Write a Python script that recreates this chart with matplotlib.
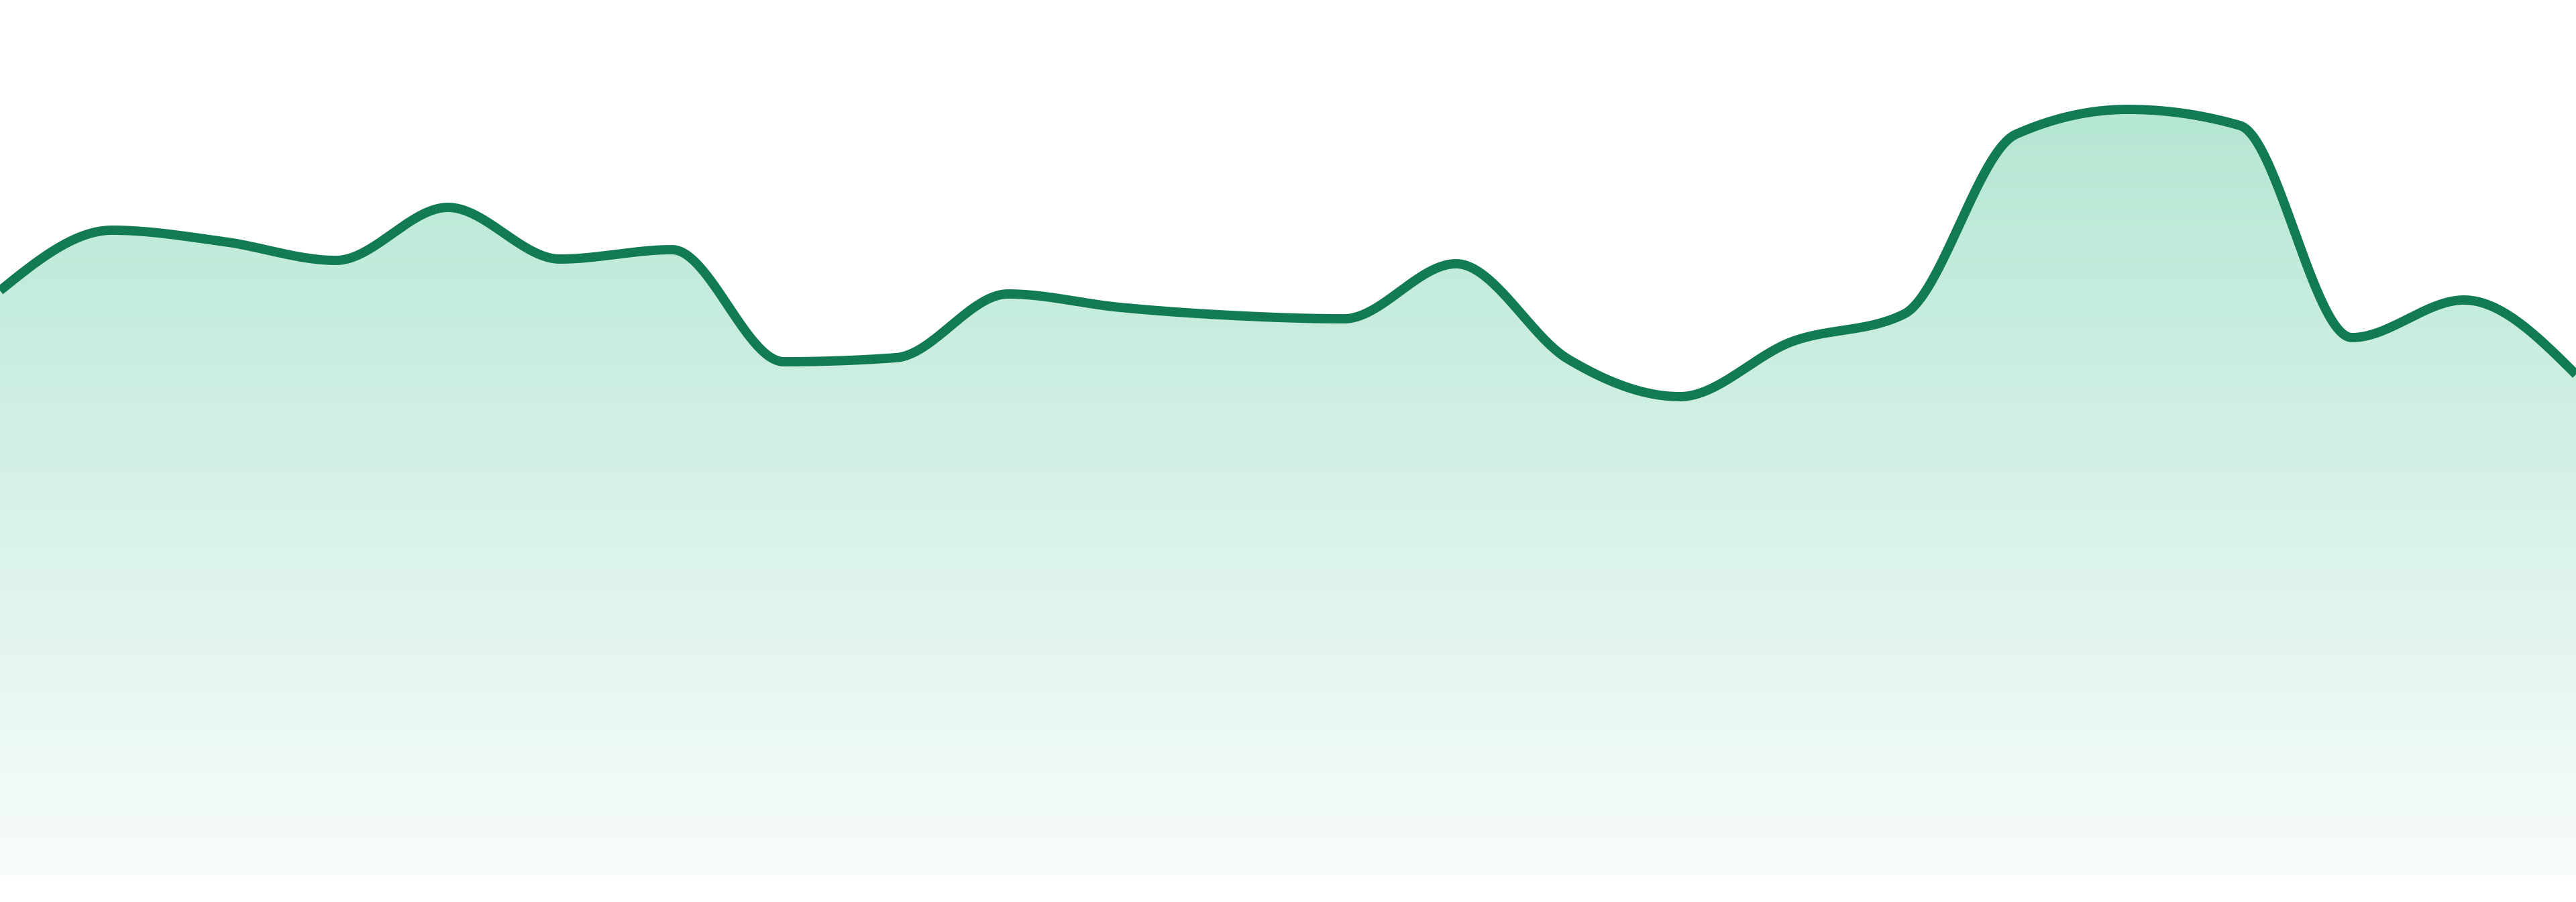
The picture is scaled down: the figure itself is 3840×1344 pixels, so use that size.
import matplotlib
matplotlib.use("Agg")
import matplotlib.pyplot as plt
import numpy as np

# values, one per evenly spaced step
steps = list(range(24))
values = [87.2, 96.2, 94.5, 91.7, 99.6, 91.9, 93.3, 76.6, 77.2, 86.7, 84.7, 83.5,
          83.0, 91.2, 77.0, 71.4, 79.6, 83.7, 110.5, 114.2, 111.8, 80.2, 85.8, 74.7]

LINE = "#137b53"
TOP = np.array([181, 231, 211]) / 255
BOTTOM = np.array([248, 252, 251]) / 255


def monotone_x(x, y, n=60):
    # same idea as d3.curveMonotoneX (Steffen slopes, cubic hermite pieces)
    x = np.asarray(x, float)
    y = np.asarray(y, float)
    h = np.diff(x)
    s = np.diff(y) / h
    t = np.zeros(len(x))
    for i in range(1, len(x) - 1):
        p = (s[i - 1] * h[i] + s[i] * h[i - 1]) / (h[i - 1] + h[i])
        t[i] = (np.sign(s[i - 1]) + np.sign(s[i])) * min(abs(s[i - 1]), abs(s[i]), 0.5 * abs(p))
    t[0] = (3 * s[0] - t[1]) / 2
    t[-1] = (3 * s[-1] - t[-2]) / 2
    xs, ys = [], []
    for i in range(len(x) - 1):
        u = np.linspace(0, 1, n, endpoint=(i == len(x) - 2))
        h00 = 2 * u**3 - 3 * u**2 + 1
        h10 = u**3 - 2 * u**2 + u
        h01 = -2 * u**3 + 3 * u**2
        h11 = u**3 - u**2
        xs.append(x[i] + u * h[i])
        ys.append(h00 * y[i] + h10 * h[i] * t[i] + h01 * y[i + 1] + h11 * h[i] * t[i + 1])
    return np.concatenate(xs), np.concatenate(ys)


fig = plt.figure(figsize=(38.4, 13.44), dpi=100)
ax = fig.add_axes([0, 39 / 1344, 1, 1305 / 1344])
ax.set_xlim(0, 23)
ax.set_ylim(0, 130.5)
ax.axis("off")

cx, cy = monotone_x(steps, values)
ymax = cy.max()

# gradient fill, clipped to the area under the curve
grad = np.linspace(0, 1, 256)[:, None]
img = TOP[None, None, :] * (1 - grad[..., None]) + BOTTOM[None, None, :] * grad[..., None]
img = np.repeat(img, 2, axis=1)
area = ax.fill_between(cx, cy, 0, color="none", lw=0)
im = ax.imshow(img, extent=[0, 23, 0, ymax], aspect="auto", origin="upper", zorder=1)
im.set_clip_path(area.get_paths()[0], transform=ax.transData)

ax.plot(cx, cy, color=LINE, lw=10, solid_capstyle="butt", solid_joinstyle="round", zorder=3)

fig.savefig("out.png", dpi=100, facecolor="white")
